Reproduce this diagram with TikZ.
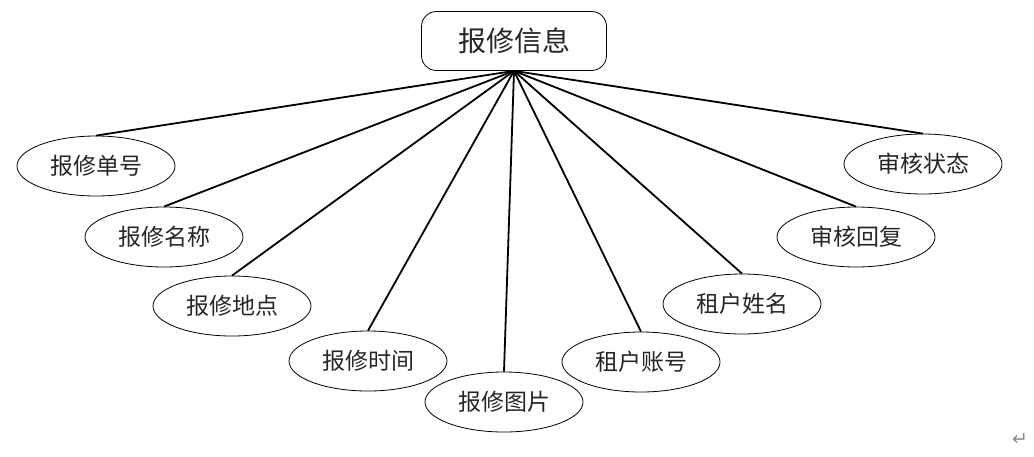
\documentclass[tikz,border=0pt]{standalone}
\usepackage{fontspec}
\setmainfont{Noto Sans CJK SC}
\newfontfamily\symfont{DejaVu Sans}
\usepackage{tikz}
\usetikzlibrary{shapes.geometric}

\begin{document}
\begin{tikzpicture}[x=1pt, y=-1pt,
  attr/.style={ellipse, draw, line width=0.8pt, minimum width=158pt, minimum height=60pt, inner sep=0pt, font=\fontsize{23}{23}\selectfont, text=black!85},
  entity/.style={rectangle, rounded corners=15pt, draw, line width=0.8pt, minimum width=185pt, minimum height=59pt, font=\fontsize{28}{28}\selectfont, text=black!85},
  link/.style={line width=1.8pt}]
  \useasboundingbox (0,0) rectangle (1034,456);
  \node[entity] (info) at (514,41) {报修信息};
  \node[attr] (num) at (96,166) {报修单号};
  \node[attr] (name) at (164,237) {报修名称};
  \node[attr] (place) at (232,306) {报修地点};
  \node[attr] (time) at (368,361) {报修时间};
  \node[attr] (pic) at (504,402) {报修图片};
  \node[attr] (acct) at (641,362) {租户账号};
  \node[attr] (tname) at (742,304) {租户姓名};
  \node[attr] (reply) at (856,237) {审核回复};
  \node[attr] (state) at (923,164) {审核状态};
  \foreach \n in {num, name, place, time, pic, acct, tname, reply, state}
    \draw[link] (info.south) -- (\n.north);
  \node[text=black!45, font=\symfont\fontsize{19}{19}\selectfont] (mark) at (1020,440) {↵};
\end{tikzpicture}
\end{document}
